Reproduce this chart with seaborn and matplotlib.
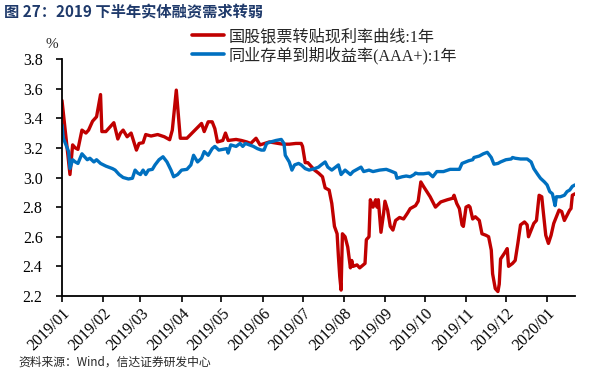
import pandas as pd
import numpy as np
import matplotlib
matplotlib.use("Agg")
import matplotlib.pyplot as plt
import matplotlib.dates as mdates
from matplotlib.lines import Line2D
import seaborn as sns

# ---------------- data ----------------
red_name = "国股银票转贴现利率曲线:1年"
blue_name = "同业存单到期收益率(AAA+):1年"

red_dates = [
    "2019-01-01", "2019-01-07", "2019-01-09", "2019-01-11", "2019-01-13", "2019-01-16", "2019-01-19",
    "2019-01-21", "2019-01-24", "2019-01-27", "2019-01-30", "2019-01-31", "2019-02-03", "2019-02-09",
    "2019-02-12", "2019-02-14", "2019-02-16", "2019-02-19", "2019-02-22", "2019-02-26", "2019-02-28",
    "2019-03-03", "2019-03-05", "2019-03-09", "2019-03-14", "2019-03-19", "2019-03-23", "2019-03-25",
    "2019-03-28", "2019-03-31", "2019-04-05", "2019-04-11", "2019-04-16", "2019-04-18", "2019-04-21",
    "2019-04-24", "2019-04-26", "2019-04-28", "2019-05-02", "2019-05-04", "2019-05-06", "2019-05-12",
    "2019-05-16", "2019-05-20", "2019-05-23", "2019-05-27", "2019-05-30", "2019-06-06", "2019-06-13",
    "2019-06-16", "2019-06-21", "2019-06-26", "2019-06-30", "2019-07-01", "2019-07-03", "2019-07-05",
    "2019-07-08", "2019-07-10", "2019-07-13", "2019-07-16", "2019-07-18", "2019-07-21", "2019-07-23",
    "2019-07-25", "2019-07-27", "2019-07-28", "2019-07-29", "2019-07-30", "2019-07-31", "2019-08-02",
    "2019-08-04", "2019-08-06", "2019-08-07", "2019-08-08", "2019-08-11", "2019-08-13", "2019-08-17",
    "2019-08-18", "2019-08-20", "2019-08-21", "2019-08-23", "2019-08-25", "2019-08-26", "2019-08-27",
    "2019-08-29", "2019-08-31", "2019-09-01", "2019-09-03", "2019-09-05", "2019-09-07", "2019-09-09",
    "2019-09-12", "2019-09-15", "2019-09-18", "2019-09-20", "2019-09-24", "2019-09-26", "2019-09-28",
    "2019-09-30", "2019-10-05", "2019-10-09", "2019-10-13", "2019-10-18", "2019-10-22", "2019-10-23",
    "2019-10-25", "2019-10-27", "2019-10-29", "2019-10-30", "2019-11-01", "2019-11-03", "2019-11-04",
    "2019-11-06", "2019-11-08", "2019-11-11", "2019-11-13", "2019-11-16", "2019-11-18", "2019-11-20",
    "2019-11-21", "2019-11-23", "2019-11-25", "2019-11-26", "2019-11-27", "2019-11-30", "2019-12-02",
    "2019-12-03", "2019-12-06", "2019-12-08", "2019-12-10", "2019-12-12", "2019-12-15", "2019-12-17",
    "2019-12-18", "2019-12-20", "2019-12-22", "2019-12-24", "2019-12-26", "2019-12-28", "2019-12-29",
    "2019-12-31", "2020-01-02", "2020-01-04", "2020-01-06", "2020-01-08", "2020-01-10", "2020-01-12",
    "2020-01-14", "2020-01-16", "2020-01-18", "2020-01-19", "2020-01-20", "2020-01-22",
]
red_values = [
    3.52, 3.02, 3.22, 3.20, 3.19, 3.32, 3.30,
    3.32, 3.38, 3.41, 3.56, 3.31, 3.31, 3.37,
    3.26, 3.30, 3.32, 3.275, 3.30, 3.185, 3.23,
    3.235, 3.29, 3.28, 3.29, 3.275, 3.255, 3.32,
    3.59, 3.265, 3.265, 3.32, 3.365, 3.31, 3.376,
    3.376, 3.33, 3.24, 3.25, 3.30, 3.25, 3.257,
    3.25, 3.24, 3.23, 3.265, 3.22, 3.24, 3.23,
    3.225, 3.225, 3.23, 3.23, 3.21, 3.10, 3.10,
    3.07, 3.05, 3.03, 3.005, 2.93, 2.915, 2.825,
    2.67, 2.62, 2.465, 2.33, 2.24, 2.62, 2.60,
    2.53, 2.39, 2.44, 2.40, 2.41, 2.39, 2.42,
    2.58, 2.60, 2.85, 2.80, 2.85, 2.80, 2.85,
    2.63, 2.76, 2.84, 2.78, 2.67, 2.645, 2.71,
    2.73, 2.72, 2.76, 2.79, 2.81, 2.84, 2.97,
    2.94, 2.87, 2.80, 2.835, 2.85, 2.86, 2.88,
    2.825, 2.79, 2.68, 2.67, 2.80, 2.81, 2.80,
    2.72, 2.735, 2.71, 2.62, 2.61, 2.60, 2.51,
    2.35, 2.25, 2.23, 2.28, 2.45, 2.49, 2.52,
    2.40, 2.42, 2.44, 2.555, 2.68, 2.70, 2.68,
    2.60, 2.645, 2.69, 2.71, 2.88, 2.87, 2.78,
    2.61, 2.555, 2.61, 2.69, 2.735, 2.78, 2.77,
    2.71, 2.745, 2.78, 2.79, 2.88, 2.89,
]

blue_dates = [
    "2019-01-01", "2019-01-02", "2019-01-04", "2019-01-06", "2019-01-07", "2019-01-09", "2019-01-11",
    "2019-01-13", "2019-01-16", "2019-01-19", "2019-01-20", "2019-01-22", "2019-01-25", "2019-01-27",
    "2019-01-30", "2019-02-03", "2019-02-08", "2019-02-10", "2019-02-13", "2019-02-16", "2019-02-20",
    "2019-02-23", "2019-02-25", "2019-02-27", "2019-03-01", "2019-03-03", "2019-03-05", "2019-03-07",
    "2019-03-10", "2019-03-12", "2019-03-15", "2019-03-18", "2019-03-21", "2019-03-24", "2019-03-26",
    "2019-03-29", "2019-04-01", "2019-04-05", "2019-04-08", "2019-04-10", "2019-04-13", "2019-04-16",
    "2019-04-18", "2019-04-21", "2019-04-24", "2019-04-26", "2019-04-29", "2019-05-05", "2019-05-06",
    "2019-05-08", "2019-05-12", "2019-05-15", "2019-05-17", "2019-05-19", "2019-05-22", "2019-05-25",
    "2019-05-28", "2019-05-31", "2019-06-02", "2019-06-04", "2019-06-07", "2019-06-11", "2019-06-15",
    "2019-06-17", "2019-06-18", "2019-06-21", "2019-06-23", "2019-06-25", "2019-06-28", "2019-06-30",
    "2019-07-03", "2019-07-06", "2019-07-10", "2019-07-13", "2019-07-15", "2019-07-18", "2019-07-20",
    "2019-07-23", "2019-07-28", "2019-07-30", "2019-08-02", "2019-08-06", "2019-08-08", "2019-08-12",
    "2019-08-14", "2019-08-16", "2019-08-20", "2019-08-23", "2019-08-28", "2019-09-02", "2019-09-05",
    "2019-09-09", "2019-09-10", "2019-09-14", "2019-09-17", "2019-09-20", "2019-09-23", "2019-09-24",
    "2019-09-26", "2019-09-30", "2019-10-04", "2019-10-07", "2019-10-10", "2019-10-15", "2019-10-20",
    "2019-10-27", "2019-10-29", "2019-11-03", "2019-11-06", "2019-11-07", "2019-11-11", "2019-11-14",
    "2019-11-17", "2019-11-20", "2019-11-22", "2019-11-25", "2019-11-27", "2019-12-01", "2019-12-05",
    "2019-12-06", "2019-12-08", "2019-12-12", "2019-12-17", "2019-12-20", "2019-12-22", "2019-12-25",
    "2019-12-27", "2019-12-30", "2020-01-01", "2020-01-03", "2020-01-05", "2020-01-07", "2020-01-08",
    "2020-01-11", "2020-01-14", "2020-01-16", "2020-01-18", "2020-01-20", "2020-01-22",
]
blue_values = [
    3.355, 3.265, 3.22, 3.175, 3.06, 3.12, 3.105,
    3.095, 3.16, 3.13, 3.12, 3.13, 3.105, 3.12,
    3.095, 3.077, 3.06, 3.05, 3.02, 3.00, 2.99,
    2.995, 3.05, 3.03, 3.02, 3.05, 3.02, 3.05,
    3.055, 3.085, 3.12, 3.14, 3.105, 3.05, 3.005,
    3.02, 3.05, 3.055, 3.085, 3.15, 3.105, 3.13,
    3.175, 3.15, 3.195, 3.21, 3.185, 3.195, 3.165,
    3.22, 3.21, 3.23, 3.21, 3.23, 3.22, 3.21,
    3.195, 3.185, 3.185, 3.23, 3.24, 3.25, 3.257,
    3.23, 3.15, 3.105, 3.05, 3.085, 3.095, 3.085,
    3.06, 3.05, 3.06, 3.07, 3.085, 3.105, 3.07,
    3.05, 3.085, 3.02, 3.05, 3.02, 3.04, 3.06,
    3.07, 3.04, 3.05, 3.04, 3.05, 3.055, 3.045,
    3.03, 2.995, 3.005, 3.01, 3.005, 3.02, 3.03,
    3.025, 3.025, 3.03, 3.005, 3.04, 3.04, 3.055,
    3.055, 3.095, 3.113, 3.12, 3.135, 3.145, 3.16,
    3.17, 3.135, 3.09, 3.095, 3.105, 3.12, 3.125,
    3.135, 3.13, 3.125, 3.125, 3.105, 3.06, 3.02,
    2.995, 2.97, 2.95, 2.905, 2.89, 2.81, 2.87,
    2.87, 2.88, 2.905, 2.915, 2.94, 2.95,
]

y_ticks = [2.2, 2.4, 2.6, 2.8, 3.0, 3.2, 3.4, 3.6, 3.8]
title_text = "图 27：2019 下半年实体融资需求转弱"
source_text = "资料来源：Wind，信达证券研发中心"

# ---------------- frame ----------------
df = pd.concat([
    pd.DataFrame({"date": pd.to_datetime(red_dates), "value": red_values, "series": red_name}),
    pd.DataFrame({"date": pd.to_datetime(blue_dates), "value": blue_values, "series": blue_name}),
], ignore_index=True)

sns.set_style("ticks")
plt.rcParams["font.family"] = ["Liberation Serif", "Noto Sans CJK SC", "DejaVu Sans"]

fig = plt.figure(figsize=(5.91, 3.70), dpi=100)
ax = fig.add_axes([62 / 591, 1 - 296 / 370, (575 - 62) / 591, (296 - 59) / 370])

sns.lineplot(data=df, x="date", y="value", hue="series",
             palette={red_name: "#C00000", blue_name: "#0070C0"},
             linewidth=2.4, ax=ax, legend=False)

ax.set_xlim(pd.Timestamp("2019-01-01"), pd.Timestamp("2020-01-22"))
ax.set_ylim(2.2, 3.8)
ax.set_yticks(y_ticks)
ax.set_yticklabels([f"{v:.1f}" for v in y_ticks])
ax.xaxis.set_major_locator(mdates.MonthLocator())
ax.xaxis.set_major_formatter(mdates.DateFormatter("%Y/%m"))
ax.set_xlabel("")
ax.set_ylabel("")

for s in ["top", "right"]:
    ax.spines[s].set_visible(False)
for s in ["left", "bottom"]:
    ax.spines[s].set_linewidth(1.3)
    ax.spines[s].set_color("black")

ax.tick_params(axis="both", direction="out", length=4, width=1.2, colors="black", labelsize=11.5)
ax.tick_params(axis="y", pad=10)
ax.tick_params(axis="x", pad=3)
for lab in ax.get_xticklabels():
    lab.set_rotation(45)
    lab.set_ha("right")
    lab.set_va("top")
    lab.set_rotation_mode("anchor")
for lab in ax.get_xticklabels() + ax.get_yticklabels():
    lab.set_fontfamily(["Liberation Serif"])

# percent unit
fig.text(52 / 591, 1 - 44 / 370, "%", ha="center", va="center", fontsize=11,
         family=["Liberation Serif"])

# legend
handles = [Line2D([], [], color="#C00000", lw=2.6), Line2D([], [], color="#0070C0", lw=2.6)]
leg = fig.legend(handles, [red_name, blue_name], loc="upper left",
                 bbox_to_anchor=(192 / 591, 1 - 29 / 370), frameon=False,
                 prop={"family": ["Liberation Serif", "Noto Sans CJK SC", "DejaVu Sans"], "size": 11.6},
                 handlelength=2.0, handletextpad=0.28, labelspacing=0.08, borderaxespad=0,
                 borderpad=0)

# title
fig.text(4 / 591, 1 - 12 / 370, title_text, ha="left", va="center", fontsize=11,
         fontweight="bold", color="#1F3A6B", family=["Noto Sans CJK SC", "DejaVu Sans"])

# source
fig.text(18 / 591, 1 - 369 / 370, source_text, ha="left", va="bottom", fontsize=8.5,
         style="italic", family=["Noto Sans CJK SC", "DejaVu Sans"])

fig.savefig("out.png", dpi=100)
